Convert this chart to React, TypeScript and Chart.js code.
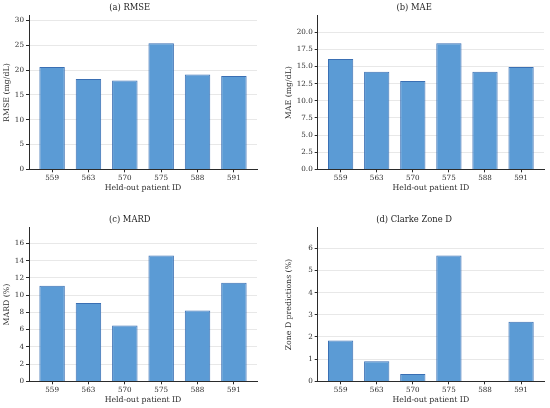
import Chart from 'chart.js/auto';
import React, { useEffect, useRef } from 'react';

const patients = ['559', '563', '570', '575', '588', '591'];
const rmse = [20.6, 18.2, 17.9, 25.4, 19.1, 18.8];
const mae = [16.1, 14.25, 12.9, 18.4, 14.25, 14.95];
const mard = [11.1, 9.08, 6.48, 14.6, 8.23, 11.45];
const zoneD = [1.84, 0.91, 0.33, 5.68, 0.0, 2.69];

const FONT = "'DejaVu Serif', serif";
const INK = '#2b2b2b';

interface PanelProps {
    title: string;
    yLabel: string;
    values: number[];
    yMax: number;
    step: number;
    decimals: number;
    left: number;
    top: number;
    padLeft: number;
    axisWidth: number;
    padRight: number;
}

const Panel: React.FC<PanelProps> = (p) => {
    const canvasRef = useRef<HTMLCanvasElement>(null);

    useEffect(() => {
        if (!canvasRef.current) return;
        const ctx = canvasRef.current.getContext('2d');
        if (!ctx) return;
        const chart = new Chart(ctx, {
            type: 'bar',
            data: {
                datasets: [
                    {
                        data: p.values.map((y, i) => ({ x: i, y })),
                        backgroundColor: '#5b9bd5',
                        borderColor: '#3a6fb3',
                        borderWidth: 1,
                        barPercentage: 0.7,
                        categoryPercentage: 1,
                    },
                ],
            },
            options: {
                animation: false,
                responsive: true,
                maintainAspectRatio: false,
                layout: {
                    padding: { left: p.padLeft, right: p.padRight, top: 0, bottom: 3.3 },
                },
                plugins: {
                    legend: { display: false },
                    tooltip: { enabled: false },
                    title: {
                        display: true,
                        text: p.title,
                        color: '#1e1e1e',
                        font: { family: FONT, size: 8.4, weight: 'normal', lineHeight: 1.1 },
                        padding: { top: 3.2, bottom: 3.5 },
                    },
                },
                scales: {
                    x: {
                        type: 'linear',
                        offset: false,
                        min: -0.635,
                        max: 5.635,
                        afterBuildTicks: (scale: any) => {
                            scale.ticks = patients.map((_, i) => ({ value: i }));
                        },
                        afterFit: (scale: any) => {
                            scale.height = 23.4;
                        },
                        ticks: {
                            callback: (v: any) => patients[Number(v)] ?? '',
                            color: INK,
                            font: { family: FONT, size: 7.2 },
                            padding: 1.5,
                            maxRotation: 0,
                        },
                        grid: {
                            offset: false,
                            drawOnChartArea: false,
                            drawTicks: true,
                            tickLength: 3,
                            tickColor: INK,
                        },
                        border: { display: true, color: INK, width: 1 },
                        title: {
                            display: true,
                            text: 'Held-out patient ID',
                            color: INK,
                            font: { family: FONT, size: 7.8 },
                            padding: { top: 0, bottom: 0 },
                        },
                    },
                    y: {
                        min: 0,
                        max: p.yMax,
                        afterBuildTicks: (scale: any) => {
                            const out: { value: number }[] = [];
                            for (let v = 0; v <= p.yMax + 1e-9; v += p.step) out.push({ value: v });
                            scale.ticks = out;
                        },
                        afterFit: (scale: any) => {
                            scale.width = p.axisWidth;
                        },
                        ticks: {
                            callback: (v: any) => Number(v).toFixed(p.decimals),
                            color: INK,
                            font: { family: FONT, size: 7.2 },
                            padding: 2,
                        },
                        grid: {
                            color: '#e2e2e2',
                            lineWidth: 0.8,
                            borderDash: [1.5, 2],
                            tickLength: 3,
                            tickColor: INK,
                            tickBorderDash: [0, 0],
                            tickWidth: 1,
                        },
                        border: { display: true, color: INK, width: 1 },
                        title: {
                            display: true,
                            text: p.yLabel,
                            color: INK,
                            font: { family: FONT, size: 7.8 },
                            padding: { top: 0, bottom: 0 },
                        },
                    },
                },
            },
        });
        return () => {
            chart.destroy();
        };
    }, []);

    return (
        <div style={{ position: 'absolute', left: p.left, top: p.top, width: 275, height: 196 }}>
            <canvas ref={canvasRef} />
        </div>
    );
};

const App: React.FC = () => {
    return (
        <div style={{ position: 'absolute', left: 0, top: 0, width: 550, height: 408, background: '#fff' }}>
            <Panel title="(a) RMSE" yLabel="RMSE (mg/dL)" values={rmse} yMax={30.9} step={5} decimals={0}
                left={0} top={0} padLeft={2.5} axisWidth={26.5} padRight={18} />
            <Panel title="(b) MAE" yLabel="MAE (mg/dL)" values={mae} yMax={22.4} step={2.5} decimals={1}
                left={275} top={0} padLeft={9.2} axisWidth={33.5} padRight={6} />
            <Panel title="(c) MARD" yLabel="MARD (%)" values={mard} yMax={17.8} step={2} decimals={0}
                left={0} top={212} padLeft={2.5} axisWidth={26.5} padRight={18} />
            <Panel title="(d) Clarke Zone D" yLabel="Zone D predictions (%)" values={zoneD} yMax={6.92} step={1} decimals={0}
                left={275} top={212} padLeft={9.2} axisWidth={33.5} padRight={6} />
        </div>
    );
};

export default App;
